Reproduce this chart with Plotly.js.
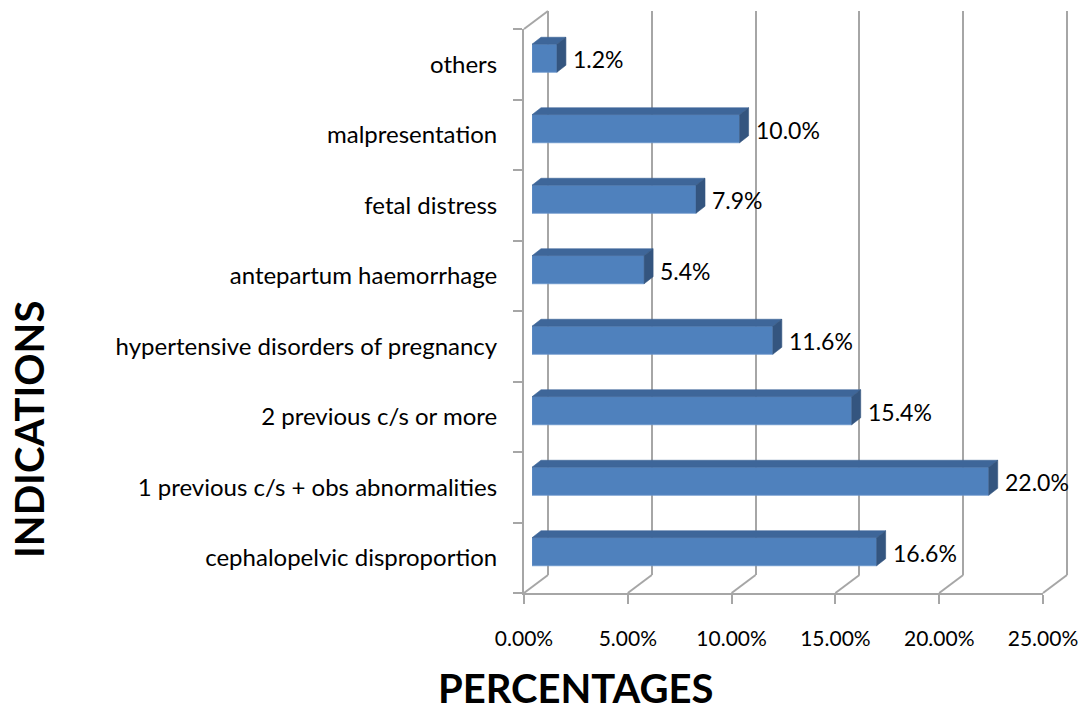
<!DOCTYPE html>
<html>
<head>
<meta charset="utf-8">
<script src="https://cdn.plot.ly/plotly-3.0.1.min.js"></script>
<style>html,body{margin:0;padding:0;background:#fff;}#chart{width:1087px;height:713px;}</style>
</head>
<body>
<div id="chart"></div>
<script>
// ---- data (bottom to top) ----
const categories = [
  "cephalopelvic disproportion",
  "1 previous c/s + obs abnormalities",
  "2 previous c/s or more",
  "hypertensive disorders of pregnancy",
  "antepartum haemorrhage",
  "fetal distress",
  "malpresentation",
  "others"
];
const values = [16.6, 22.0, 15.4, 11.6, 5.4, 7.9, 10.0, 1.2];
const tickValues = [0, 5, 10, 15, 20, 25];
const tickLabels = ["0.00%", "5.00%", "10.00%", "15.00%", "20.00%", "25.00%"];

// ---- geometry (pixels) ----
const W = 1087, H = 713;
const fx0 = 524, fx1 = 1043, fyTop = 29, fyBot = 593;   // front frame
const back = [24, -18];     // back wall offset
const barOff = [8, -6];     // bar front face offset
const barDepth = [9, -7];
const slotPx = (fyBot - fyTop) / categories.length;
const barH = 28;
const xmax = 25;
const kx = xmax / (fx1 - fx0);          // data per px
const ky = 1 / slotPx;                  // category units per px
const bw = barH / slotPx;
const dx = barDepth[0] * kx, dy = -barDepth[1] * ky;
const padPx = 10;
const pad = padPx * kx;

const gridCol = '#A6A6A6';
const idx = categories.map((_, i) => i);

// faces
const topX = [], topY = [], sideX = [], sideY = [];
values.forEach((v, i) => {
  const t = i + bw / 2, b = i - bw / 2;
  topX.push(0, v, v + dx, dx, 0, null);
  topY.push(t, t, t + dy, t + dy, t, null);
  sideX.push(v, v, v + dx, v + dx, v, null);
  sideY.push(b, t, t + dy, b + dy, b, null);
});

const traces = [
  {type: 'scatter', x: categories.map(() => 0), y: categories, xaxis: 'x', yaxis: 'y', mode: 'markers',
   marker: {opacity: 0}, hoverinfo: 'skip', showlegend: false},
  {type: 'scatter', x: [0], y: [0], xaxis: 'x2', yaxis: 'y2', mode: 'markers',
   marker: {opacity: 0}, hoverinfo: 'skip', showlegend: false},
  {type: 'bar', orientation: 'h', x: values, y: idx, width: bw, xaxis: 'x3', yaxis: 'y3',
   marker: {color: '#4F81BD', line: {color: '#6A95CC', width: 0.8}}, showlegend: false,
   hovertemplate: '%{x:.1f}%<extra></extra>'},
  {type: 'scatter', x: topX, y: topY, xaxis: 'x3', yaxis: 'y3', mode: 'lines', fill: 'toself',
   fillcolor: '#3E6699', line: {width: 0.6, color: '#3E6699'}, hoverinfo: 'skip', showlegend: false},
  {type: 'scatter', x: sideX, y: sideY, xaxis: 'x3', yaxis: 'y3', mode: 'lines', fill: 'toself',
   fillcolor: '#34557F', line: {width: 0.6, color: '#34557F'}, hoverinfo: 'skip', showlegend: false}
];

// floor / wall edges, in paper units derived from the tick values and the frame geometry
const pxX = t => (fx0 + t / kx) / W;
const pyP = py => 1 - py / H;
const backTop = fyTop + back[1], backBot = fyBot + back[1];
const shapes = [];
tickValues.forEach(t => {
  shapes.push({type: 'line', xref: 'paper', yref: 'paper', layer: 'below',
    x0: pxX(t), x1: pxX(t) + back[0] / W, y0: pyP(fyBot), y1: pyP(backBot),
    line: {color: gridCol, width: 2}});
});
shapes.push({type: 'line', xref: 'paper', yref: 'paper', layer: 'below',
  x0: pxX(0), x1: pxX(0) + back[0] / W, y0: pyP(fyTop), y1: pyP(backTop),
  line: {color: gridCol, width: 2}});

// back-right edge (nothing in front of it)
const xBackR = pxX(tickValues[tickValues.length - 1]) + back[0] / W;
shapes.push({type: 'line', xref: 'paper', yref: 'paper', layer: 'above',
  x0: xBackR, x1: xBackR, y0: pyP(backBot), y1: pyP(backTop), line: {color: gridCol, width: 2}});

// back-left edge, drawn only in the gaps between the bars that hide it
const xBackL = pxX(tickValues[0]) + back[0] / W;
const covered = idx.map(i => {
  const c = fyBot - slotPx * (i + 0.5) + barOff[1];
  return [c - barH / 2 + barDepth[1] - 1, c + barH / 2 + 1];
}).sort((a, b) => a[0] - b[0]);
let yStart = backTop;
covered.forEach(([a, b]) => {
  if (a > yStart) shapes.push({type: 'line', xref: 'paper', yref: 'paper', layer: 'above',
    x0: xBackL, x1: xBackL, y0: pyP(yStart), y1: pyP(a), line: {color: gridCol, width: 2}});
  yStart = b;
});
if (backBot > yStart) shapes.push({type: 'line', xref: 'paper', yref: 'paper', layer: 'above',
  x0: xBackL, x1: xBackL, y0: pyP(yStart), y1: pyP(backBot), line: {color: gridCol, width: 2}});

const annotations = values.map((v, i) => ({
  xref: 'x3', yref: 'y3', x: v, y: i, xanchor: 'left', yanchor: 'middle', xshift: 14, yshift: -1,
  text: v.toFixed(1) + '%', showarrow: false, font: {family: 'Lato', size: 23, color: '#000'}
}));
annotations.push({xref: 'paper', yref: 'paper', x: 575 / W, y: 0, xanchor: 'center', yanchor: 'bottom', borderpad: 0,
  text: '<b>PERCENTAGES</b>', showarrow: false, font: {family: 'Lato', size: 40, color: '#000'}});
annotations.push({xref: 'paper', yref: 'paper', x: 29 / W, y: 1 - 430 / H, xanchor: 'center', yanchor: 'middle',
  textangle: -90, text: '<b>INDICATIONS</b>', showarrow: false, font: {family: 'Lato', size: 40, color: '#000'}});

const layout = {
  width: W, height: H, margin: {l: 0, r: 0, t: 0, b: 0},
  paper_bgcolor: '#fff', plot_bgcolor: 'rgba(0,0,0,0)', showlegend: false,
  font: {family: 'Lato', size: 20, color: '#000'},
  xaxis: {domain: [fx0 / W, fx1 / W], range: [0, xmax], anchor: 'y', showline: true, linecolor: gridCol, linewidth: 2,
    ticks: 'outside', ticklen: 9, tickwidth: 2, tickcolor: gridCol, tickvals: tickValues, ticktext: tickLabels,
    showgrid: false, zeroline: false, ticklabelstandoff: 17, tickfont: {family: 'Lato', size: 21}},
  yaxis: {domain: [1 - fyBot / H, 1 - fyTop / H], type: 'category', categoryarray: categories, categoryorder: 'array',
    range: [-0.5, categories.length - 0.5], anchor: 'x', showline: true, linecolor: gridCol, linewidth: 2,
    ticks: 'outside', tickson: 'boundaries', ticklen: 9, tickwidth: 2, tickcolor: gridCol, showgrid: false,
    zeroline: false, ticklabelstandoff: 20, tickfont: {family: 'Lato', size: 24}},
  xaxis2: {domain: [(fx0 + back[0] - padPx) / W, (fx1 + back[0] + padPx) / W], range: [-pad, xmax + pad], anchor: 'y2',
    showgrid: true, gridcolor: gridCol, gridwidth: 2, tickvals: tickValues, showticklabels: false, ticks: '',
    zeroline: false, showline: false},
  yaxis2: {domain: [1 - backBot / H, 1 - backTop / H], range: [0, 1], anchor: 'x2',
    showgrid: false, zeroline: false, showticklabels: false, ticks: '', showline: false},
  xaxis3: {domain: [(fx0 + barOff[0]) / W, (fx1 + barOff[0]) / W], range: [0, xmax], anchor: 'y3',
    visible: false},
  yaxis3: {domain: [1 - (fyBot + barOff[1]) / H, 1 - (fyTop + barOff[1]) / H], range: [-0.5, categories.length - 0.5],
    anchor: 'x3', visible: false},
  shapes: shapes, annotations: annotations
};

Plotly.newPlot('chart', traces, layout, {displayModeBar: false, staticPlot: true});
</script>
</body>
</html>
